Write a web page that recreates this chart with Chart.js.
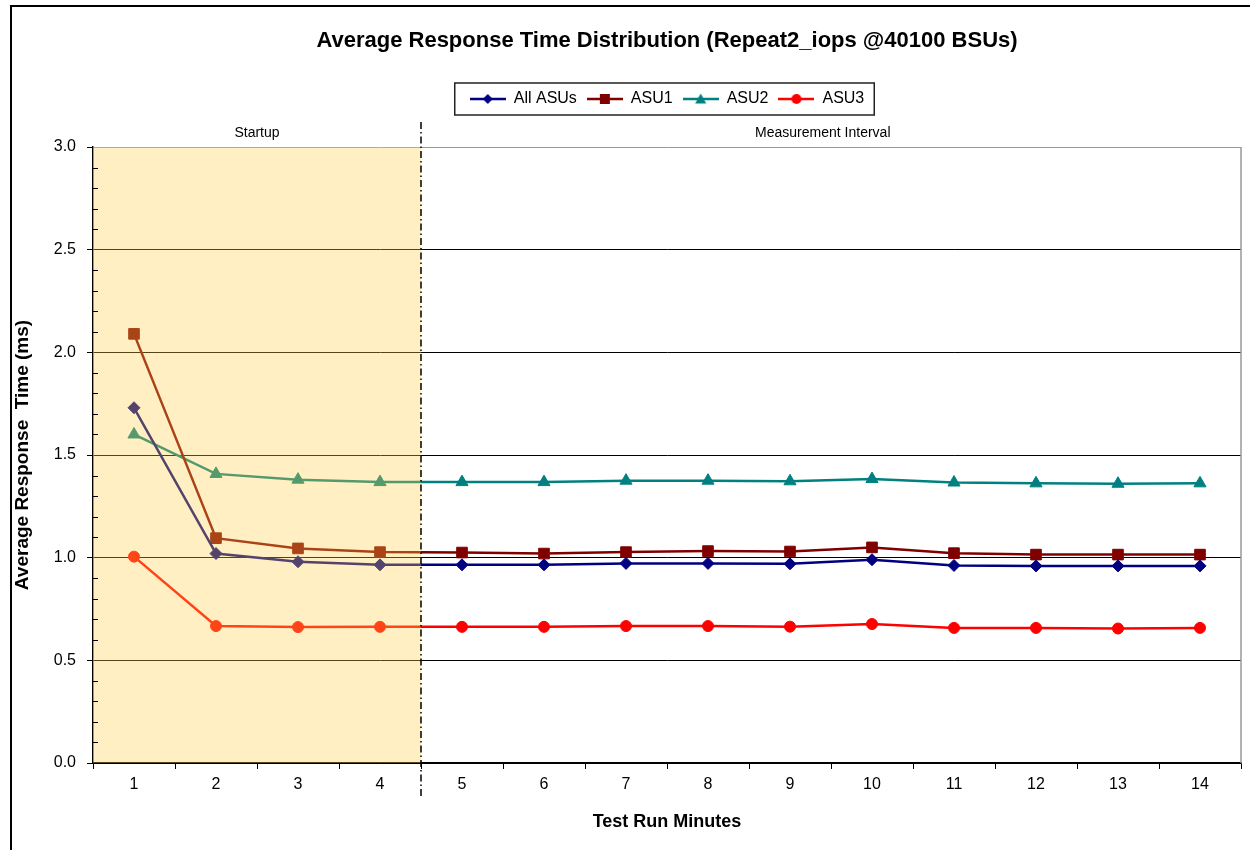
<!DOCTYPE html>
<html>
<head>
<meta charset="utf-8">
<title>Average Response Time Distribution</title>
<script src="https://cdn.jsdelivr.net/npm/chart.js"></script>
<style>
  html, body { margin: 0; padding: 0; background: #fff; }
  canvas { display: block; }
</style>
</head>
<body>
<canvas id="rtchart" width="1254" height="850"></canvas>
<script>
var minutes = ['1', '2', '3', '4', '5', '6', '7', '8', '9', '10', '11', '12', '13', '14'];
var regionLabels = ['Startup', 'Measurement Interval'];
var regionCenters = [2.5, 9.4];
var startupMinutes = 4;

var allAsus = [1.73, 1.02, 0.98, 0.965, 0.965, 0.965, 0.972, 0.972, 0.97, 0.99, 0.962, 0.96, 0.96, 0.96];
var asu1 = [2.09, 1.095, 1.045, 1.027, 1.025, 1.02, 1.027, 1.032, 1.03, 1.05, 1.022, 1.015, 1.015, 1.015];
var asu2 = [1.60, 1.408, 1.38, 1.368, 1.368, 1.368, 1.375, 1.375, 1.372, 1.383, 1.366, 1.362, 1.36, 1.362];
var asu3 = [1.005, 0.667, 0.662, 0.663, 0.663, 0.663, 0.667, 0.667, 0.664, 0.677, 0.658, 0.658, 0.655, 0.658];

Chart.defaults.font.family = '"Liberation Sans", Arial, sans-serif';
Chart.defaults.color = '#000';

function isMajor(v) { return Math.abs(v * 2 - Math.round(v * 2)) < 1e-6; }

// little line+marker icons for the legend, like the Excel one
function legendIcon(color, shape) {
  var c = document.createElement('canvas');
  c.width = 36; c.height = 14;
  var g = c.getContext('2d');
  g.strokeStyle = color; g.fillStyle = color; g.lineWidth = 2.5;
  g.beginPath(); g.moveTo(0, 7); g.lineTo(36, 7); g.stroke();
  g.beginPath();
  if (shape === 'diamond') { g.moveTo(18, 2); g.lineTo(23, 7); g.lineTo(18, 12); g.lineTo(13, 7); }
  else if (shape === 'square') { g.rect(13, 2, 10, 10); }
  else if (shape === 'triangle') { g.moveTo(18, 1.5); g.lineTo(23.5, 11.5); g.lineTo(12.5, 11.5); }
  else { g.arc(18, 7, 5, 0, Math.PI * 2); }
  g.closePath(); g.fill();
  return c;
}
var icons = [
  legendIcon('#000080', 'diamond'),
  legendIcon('#800000', 'square'),
  legendIcon('#008080', 'triangle'),
  legendIcon('#FF0000', 'circle')
];

var decor = {
  id: 'decor',
  beforeDraw: function (chart) {
    var c = chart.ctx;
    c.save();
    c.strokeStyle = '#000'; c.lineWidth = 2;
    c.beginPath(); c.moveTo(11, 850); c.lineTo(11, 6); c.lineTo(1250, 6); c.stroke();
    c.restore();
  },
  afterDatasetsDraw: function (chart) {
    var a = chart.chartArea, x = chart.scales.x, y = chart.scales.y, c = chart.ctx;
    var split = (x.getPixelForValue(startupMinutes - 1) + x.getPixelForValue(startupMinutes)) / 2;
    c.save();
    c.fillStyle = 'rgba(255, 205, 70, 0.33)';
    c.fillRect(a.left, a.top, split - a.left, a.bottom - a.top);
    // minor ticks inside the plot
    c.strokeStyle = '#000'; c.lineWidth = 1;
    y.ticks.forEach(function (t) {
      if (isMajor(t.value)) return;
      var py = Math.round(y.getPixelForValue(t.value)) + 0.5;
      c.beginPath(); c.moveTo(a.left, py); c.lineTo(a.left + 5, py); c.stroke();
    });
    // right border
    c.strokeStyle = '#999'; c.lineWidth = 1.5;
    c.beginPath(); c.moveTo(a.right, a.top); c.lineTo(a.right, a.bottom); c.stroke();
    // startup / measurement divider
    c.strokeStyle = '#000'; c.lineWidth = 1.5;
    c.setLineDash([7, 3, 1.5, 3]);
    c.beginPath(); c.moveTo(split, a.top - 25); c.lineTo(split, a.bottom + 34); c.stroke();
    c.restore();
  },
  afterDraw: function (chart) {
    var hb = chart.legend.legendHitBoxes, c = chart.ctx;
    if (!hb || !hb.length) return;
    var l = Infinity, r = -Infinity;
    hb.forEach(function (h) { l = Math.min(l, h.left); r = Math.max(r, h.left + h.width); });
    var cy = hb[0].top + 8;
    c.save();
    c.strokeStyle = '#222'; c.lineWidth = 1.5;
    c.strokeRect(l - 15, cy - 16, r - l + 25, 32);
    c.restore();
  }
};

var ctx = document.getElementById('rtchart').getContext('2d');

var chart = new Chart(ctx, {
  type: 'line',
  data: {
    labels: minutes,
    datasets: [{
      label: 'All ASUs',
      data: allAsus,
      borderColor: '#000080', backgroundColor: '#000080',
      pointStyle: 'rectRot', pointRadius: 6
    }, {
      label: 'ASU1',
      data: asu1,
      borderColor: '#800000', backgroundColor: '#800000',
      pointStyle: 'rect', pointRadius: 7.5
    }, {
      label: 'ASU2',
      data: asu2,
      borderColor: '#008080', backgroundColor: '#008080',
      pointStyle: 'triangle', pointRadius: 7
    }, {
      label: 'ASU3',
      data: asu3,
      borderColor: '#FF0000', backgroundColor: '#FF0000',
      pointStyle: 'circle', pointRadius: 5.5
    }]
  },
  options: {
    responsive: false,
    animation: false,
    elements: {
      line: { borderWidth: 2.5, tension: 0 },
      point: { borderWidth: 1 }
    },
    layout: { padding: { left: 0, right: 13, top: 0, bottom: 0 } },
    plugins: {
      title: {
        display: true,
        fullSize: false,
        text: 'Average Response Time Distribution (Repeat2_iops @40100 BSUs)',
        font: { size: 22, weight: 'bold' },
        color: '#000',
        padding: { top: 28, bottom: 26.6 }
      },
      legend: {
        position: 'top',
        fullSize: false,
        labels: {
          usePointStyle: true,
          pointStyleWidth: 36,
          font: { size: 16 },
          color: '#000',
          padding: 10,
          generateLabels: function (ch) {
            var items = Chart.defaults.plugins.legend.labels.generateLabels(ch);
            items.forEach(function (it, i) { it.pointStyle = icons[i]; });
            return items;
          }
        }
      },
      tooltip: { enabled: false }
    },
    scales: {
      x: {
        type: 'category',
        position: 'bottom',
        offset: true,
        grid: { offset: true, drawOnChartArea: false, tickLength: 6, color: '#000' },
        border: { color: '#000', width: 1.5 },
        ticks: { font: { size: 16 }, color: '#000', padding: 6, maxRotation: 0 },
        title: {
          display: true,
          text: 'Test Run Minutes',
          font: { size: 18, weight: 'bold' },
          color: '#000',
          padding: { top: 0, bottom: 17 }
        },
        afterFit: function (s) { s.height = 87; }
      },
      x2: {
        type: 'linear',
        position: 'top',
        min: 0.5,
        max: 14.5,
        grid: { display: false, drawTicks: false },
        border: { display: false },
        ticks: {
          font: { size: 14 },
          color: '#000',
          padding: 5,
          maxRotation: 0,
          autoSkip: false,
          callback: function (v, i) { return regionLabels[i]; }
        },
        afterBuildTicks: function (s) {
          s.ticks = regionCenters.map(function (v) { return { value: v }; });
        },
        afterFit: function (s) { s.height = 30; }
      },
      y: {
        position: 'left',
        min: 0,
        max: 3,
        grid: {
          tickLength: 6,
          color: function (c) {
            if (!c.tick || !isMajor(c.tick.value)) return 'rgba(0,0,0,0)';
            return c.tick.value >= 3 ? '#999' : '#000';
          },
          tickColor: function (c) {
            return c.tick && isMajor(c.tick.value) ? '#000' : 'rgba(0,0,0,0)';
          }
        },
        border: { color: '#000', width: 1.5 },
        ticks: {
          stepSize: 0.1,
          autoSkip: false,
          font: { size: 16 },
          color: '#000',
          padding: 11,
          callback: function (v) { return isMajor(v) ? v.toFixed(1) : ''; }
        },
        title: {
          display: true,
          text: 'Average Response  Time (ms)',
          font: { size: 19, weight: 'bold' },
          color: '#000',
          padding: { top: 11, bottom: 0 }
        },
        afterFit: function (s) { s.width = 93; }
      }
    }
  },
  plugins: [decor]
});
</script>
</body>
</html>
